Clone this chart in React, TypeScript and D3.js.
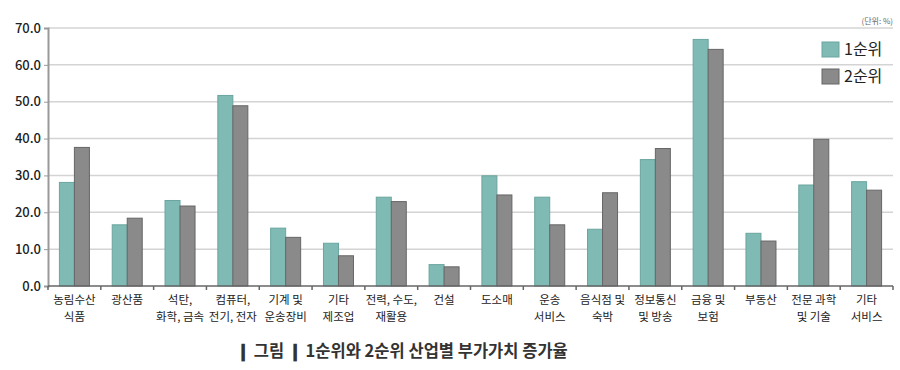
import { useEffect, useRef } from "react";
import * as d3 from "d3";

// industry categories (label lines)
const categories = [
  ["농림수산", "식품"],
  ["광산품"],
  ["석탄,", "화학, 금속"],
  ["컴퓨터,", "전기, 전자"],
  ["기계 및", "운송장비"],
  ["기타", "제조업"],
  ["전력, 수도,", "재활용"],
  ["건설"],
  ["도소매"],
  ["운송", "서비스"],
  ["음식점 및", "숙박"],
  ["정보통신", "및 방송"],
  ["금융 및", "보험"],
  ["부동산"],
  ["전문 과학", "및 기술"],
  ["기타", "서비스"],
];

const rank1 = [28.1, 16.6, 23.2, 51.7, 15.7, 11.6, 24.1, 5.8, 29.9, 24.1, 15.4, 34.3, 66.9, 14.3, 27.4, 28.3];
const rank2 = [37.6, 18.4, 21.7, 48.9, 13.2, 8.2, 22.9, 5.2, 24.7, 16.6, 25.3, 37.3, 64.2, 12.2, 39.8, 26.0];

const seriesNames = ["1순위", "2순위"];
const yTicks = [0, 10, 20, 30, 40, 50, 60, 70];

const W = 900;
const H = 370;
const FONT = "'Noto Sans CJK KR', 'Noto Sans', sans-serif";

export default function App() {
  const svgRef = useRef<SVGSVGElement>(null);

  useEffect(() => {
    const svg = d3.select(svgRef.current);
    svg.selectAll("*").remove();

    const margin = { top: 28, right: 7, bottom: 84, left: 48 };
    const chartWidth = W - margin.left - margin.right;
    const chartHeight = H - margin.top - margin.bottom;

    const x = d3
      .scaleBand<number>()
      .domain(d3.range(categories.length))
      .range([0, chartWidth]);

    const y = d3.scaleLinear().domain([0, 70]).range([chartHeight, 0]);

    const g = svg
      .append("g")
      .attr("transform", `translate(${margin.left},${margin.top})`);

    // gridlines
    g.selectAll(".grid")
      .data(yTicks.filter((t) => t > 0))
      .join("line")
      .attr("x1", 0)
      .attr("x2", chartWidth)
      .attr("y1", (d) => y(d))
      .attr("y2", (d) => y(d))
      .attr("stroke", "#d4d4d4")
      .attr("stroke-width", 1.5);

    // bars
    const barW = 15;
    const colors = ["#7fbab4", "#8a8a8a"];
    const strokes = ["#6aa59f", "#666666"];
    [rank1, rank2].forEach((vals, si) => {
      g.selectAll(`.bar${si}`)
        .data(vals)
        .join("rect")
        .attr("x", (_, i) => x(i)! + x.bandwidth() / 2 - barW + si * barW)
        .attr("y", (d) => y(d))
        .attr("width", barW)
        .attr("height", (d) => chartHeight - y(d))
        .attr("fill", colors[si])
        .attr("stroke", strokes[si])
        .attr("stroke-width", 1);
    });

    // y axis
    const yAxis = d3
      .axisLeft(y)
      .tickValues(yTicks)
      .tickSize(4)
      .tickPadding(3)
      .tickFormat((d) => d3.format(".1f")(d as number));
    const ya = g.append("g").call(yAxis);
    ya.select(".domain").attr("stroke", "#999").attr("stroke-width", 2);
    ya.selectAll(".tick line").attr("stroke", "#999");
    ya.selectAll(".tick text")
      .attr("font-family", FONT)
      .attr("font-size", 13)
      .attr("font-weight", 500)
      .attr("fill", "#222");

    // x axis line with ticks at band edges
    g.append("line")
      .attr("x1", 0)
      .attr("x2", chartWidth)
      .attr("y1", chartHeight)
      .attr("y2", chartHeight)
      .attr("stroke", "#666")
      .attr("stroke-width", 1.5);
    g.selectAll(".xtick")
      .data(d3.range(categories.length + 1))
      .join("line")
      .attr("x1", (i) => i * x.bandwidth())
      .attr("x2", (i) => i * x.bandwidth())
      .attr("y1", chartHeight)
      .attr("y2", chartHeight + 4)
      .attr("stroke", "#666")
      .attr("stroke-width", 1.5);

    // x labels
    const labels = g
      .selectAll(".xlab")
      .data(categories)
      .join("text")
      .attr("text-anchor", "middle")
      .attr("font-family", FONT)
      .attr("font-size", 11.5)
      .attr("fill", "#222")
      .attr("transform", (_, i) => `translate(${x(i)! + x.bandwidth() / 2},${chartHeight + 18})`);
    labels
      .selectAll("tspan")
      .data((d) => d)
      .join("tspan")
      .attr("x", 0)
      .attr("dy", (_, j) => (j === 0 ? 0 : 17))
      .text((d) => d);

    // unit label
    svg
      .append("text")
      .attr("x", 893)
      .attr("y", 24)
      .attr("text-anchor", "end")
      .attr("font-family", FONT)
      .attr("font-size", 8)
      .attr("fill", "#666")
      .text("(단위: %)");

    // legend
    const legend = svg.append("g").attr("transform", "translate(822,42)");
    seriesNames.forEach((name, i) => {
      legend
        .append("rect")
        .attr("x", 0)
        .attr("y", i * 27)
        .attr("width", 17)
        .attr("height", 15)
        .attr("fill", colors[i])
        .attr("stroke", strokes[i]);
      legend
        .append("text")
        .attr("x", 22)
        .attr("y", i * 27 + 13)
        .attr("font-family", FONT)
        .attr("font-size", 16)
        .attr("fill", "#222")
        .text(name);
    });

    // title
    svg
      .append("text")
      .attr("x", 236)
      .attr("y", 357)
      .attr("font-family", FONT)
      .attr("font-size", 16.5)
      .attr("font-weight", 700)
      .attr("fill", "#333")
      .text("❙ 그림 ❙ 1순위와 2순위 산업별 부가가치 증가율");
  }, []);

  return (
    <svg
      ref={svgRef}
      width={W}
      height={H}
      style={{ position: "absolute", left: 0, top: 0, background: "#fff" }}
    />
  );
}
